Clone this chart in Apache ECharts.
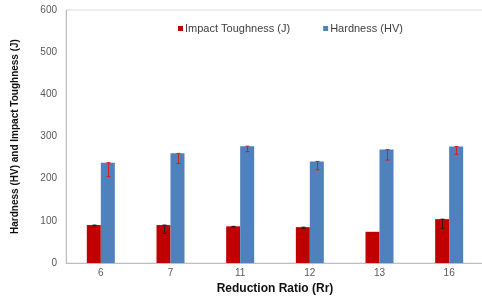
<!DOCTYPE html>
<html>
<head>
<meta charset="utf-8">
<script src="https://cdn.jsdelivr.net/npm/echarts@6/dist/echarts.min.js"></script>
<style>
  html, body { margin: 0; padding: 0; background: #fff; }
  #chart { width: 482px; height: 296px; }
</style>
</head>
<body>
<div id="chart"></div>
<script>
  // data
  const categories = ['6', '7', '11', '12', '13', '16'];
  const impact = [90, 90, 87, 85, 74, 104];        // Impact Toughness (J)
  const impactErr = [2, 20, 2, 3, 0, 22];
  const hardness = [238, 260, 277, 241, 269, 276]; // Hardness (HV)
  const hardnessErr = [33, 24, 13, 20, 25, 18];

  const BAR_W = 14;
  const font = 'Liberation Sans, Arial, sans-serif';

  // error bar drawn below the top of the bar
  function errRender(offset, color) {
    return function (params, api) {
      const i = api.value(0);
      const v = api.value(1);
      const e = api.value(2);
      if (!e) return null;
      const top = api.coord([i, v]);
      const bot = api.coord([i, v - e]);
      const x = Math.round(top[0] + offset) + 0.5;
      const cap = 2;
      const style = { stroke: color, lineWidth: 1 };
      return {
        type: 'group',
        children: [
          { type: 'line', shape: { x1: x, y1: top[1], x2: x, y2: bot[1] }, style: style },
          { type: 'line', shape: { x1: x - cap, y1: top[1], x2: x + cap, y2: top[1] }, style: style },
          { type: 'line', shape: { x1: x - cap, y1: bot[1], x2: x + cap, y2: bot[1] }, style: style }
        ]
      };
    };
  }

  const chart = echarts.init(document.getElementById('chart'));
  chart.setOption({
    animation: false,
    textStyle: { fontFamily: font },
    legend: {
      data: ['Impact Toughness (J)', 'Hardness (HV)'],
      left: 173,
      top: 18,
      icon: 'rect',
      itemWidth: 5,
      itemHeight: 5,
      itemGap: 33,
      textStyle: { fontSize: 11, color: '#404040', padding: [0, 0, 0, -3] }
    },
    grid: {
      left: 66, top: 10, width: 418, bottom: 33,
      containLabel: false, outerBoundsMode: 'none',
      show: true, borderColor: '#d9d9d9', borderWidth: 1
    },
    xAxis: {
      type: 'category',
      data: categories,
      name: 'Reduction Ratio (Rr)',
      nameLocation: 'middle',
      nameGap: 19,
      nameTextStyle: { fontSize: 12, fontWeight: 'bold', color: '#111' },
      axisLine: { lineStyle: { color: '#bfbfbf' } },
      axisTick: { show: false },
      axisLabel: { fontSize: 10, color: '#595959', margin: 5 }
    },
    yAxis: {
      type: 'value',
      min: 0,
      max: 600,
      interval: 100,
      name: 'Hardness (HV) and Impact Toughness (J)',
      nameLocation: 'middle',
      nameGap: 46,
      nameTextStyle: { fontSize: 10, fontWeight: 'bold', color: '#111' },
      axisLine: { show: true, lineStyle: { color: '#bfbfbf' } },
      axisTick: { show: false },
      splitLine: { show: false },
      axisLabel: { fontSize: 10, color: '#595959', margin: 9 }
    },
    series: [
      {
        name: 'Impact Toughness (J)',
        type: 'bar',
        data: impact,
        barWidth: BAR_W,
        barGap: '0%',
        itemStyle: { color: '#c00000' }
      },
      {
        name: 'Hardness (HV)',
        type: 'bar',
        data: hardness,
        barWidth: BAR_W,
        itemStyle: { color: '#4f81bd' }
      },
      {
        type: 'custom',
        renderItem: errRender(-BAR_W / 2, '#2a1a1a'),
        data: impact.map((v, i) => [i, v, impactErr[i]]),
        z: 10
      },
      {
        type: 'custom',
        renderItem: errRender(BAR_W / 2, '#d02020'),
        data: hardness.map((v, i) => [i, v, hardnessErr[i]]),
        z: 10
      }
    ]
  });
</script>
</body>
</html>
